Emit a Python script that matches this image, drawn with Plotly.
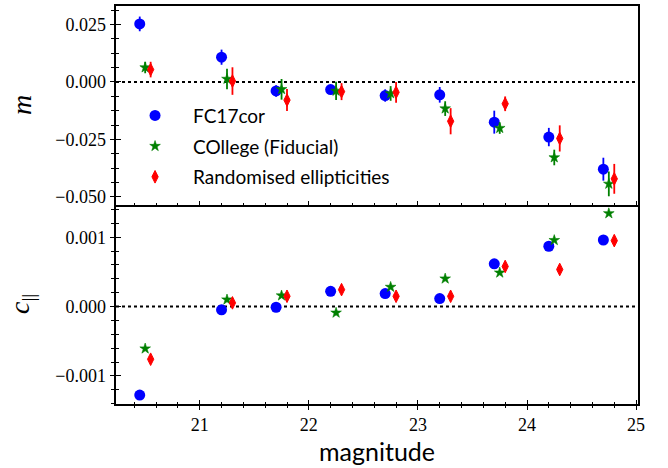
import plotly.graph_objects as go

# Magnitude bins (bin centres) for each sample; the three samples are offset slightly
mag_fc17 = [20.45, 21.20, 21.70, 22.20, 22.70, 23.20, 23.70, 24.20, 24.70]
mag_college = [20.50, 21.25, 21.75, 22.25, 22.75, 23.25, 23.75, 24.25, 24.75]
mag_random = [20.55, 21.30, 21.80, 22.30, 22.80, 23.30, 23.80, 24.30, 24.80]

# Multiplicative bias m and its uncertainty
m_fc17 = [0.0253, 0.0108, -0.0039, -0.0033, -0.0059, -0.0056, -0.0175, -0.0240, -0.0380]
m_fc17_err = [0.0032, 0.0033, 0.0025, 0.0020, 0.0027, 0.0034, 0.0050, 0.0040, 0.0050]
m_college = [0.0063, 0.0013, -0.0032, -0.0039, -0.0050, -0.0116, -0.0201, -0.0329, -0.0444]
m_college_err = [0.0025, 0.0045, 0.0045, 0.0040, 0.0032, 0.0032, 0.0025, 0.0034, 0.0054]
m_random = [0.0054, 0.0004, -0.0079, -0.0042, -0.0045, -0.0171, -0.0095, -0.0246, -0.0422]
m_random_err = [0.0034, 0.0060, 0.0048, 0.0037, 0.0045, 0.0057, 0.0032, 0.0057, 0.0065]

# Parallel additive bias c_||
c_fc17 = [-0.001277, -0.000048, -0.000010, 0.000220, 0.000187, 0.000115, 0.000617, 0.000870, 0.000960]
c_college = [-0.000607, 0.000100, 0.000158, -0.000090, 0.000282, 0.000402, 0.000488, 0.000957, 0.001344]
c_random = [-0.000760, 0.000053, 0.000148, 0.000244, 0.000148, 0.000148, 0.000578, 0.000535, 0.000951]

names = ["FC17cor", "COllege (Fiducial)", "Randomised ellipticities"]
colors = ["#0000ff", "#008000", "#ff0000"]
x_ticks = [21, 22, 23, 24, 25]
m_ticks = [-0.050, -0.025, 0.000, 0.025]
c_ticks = [-0.001, 0.000, 0.001]

X_RANGE = [20.2325, 25.0175]
M_RANGE = [-0.0536, 0.0331]
C_RANGE = [-0.001406, 0.001465]

serif = "Liberation Serif"
sans = "Lato"

markers = [
    dict(symbol="circle", size=11, color=colors[0]),
    dict(symbol="star", size=8, color=colors[1], line=dict(width=0.6, color=colors[1])),
    dict(symbol="diamond-tall", size=9, color=colors[2], line=dict(width=1, color=colors[2])),
]

fig = go.Figure()

series = [
    (mag_fc17, m_fc17, m_fc17_err, c_fc17),
    (mag_college, m_college, m_college_err, c_college),
    (mag_random, m_random, m_random_err, c_random),
]

for i, (mag, m, merr, c) in enumerate(series):
    fig.add_trace(go.Scatter(
        x=mag, y=m, mode="markers", name=names[i], legendgroup=names[i],
        marker=markers[i],
        error_y=dict(type="data", array=merr, color=colors[i], thickness=1.8, width=0),
        xaxis="x", yaxis="y", hoverinfo="skip",
    ))
for i, (mag, m, merr, c) in enumerate(series):
    fig.add_trace(go.Scatter(
        x=mag, y=c, mode="markers", name=names[i], legendgroup=names[i],
        marker=markers[i], showlegend=False,
        xaxis="x2", yaxis="y2", hoverinfo="skip",
    ))

# Empty traces so the overlay axes (inward half of the in-out ticks) get drawn
for xa, ya in [("x", "y3"), ("x2", "y4"), ("x3", "y2")]:
    fig.add_trace(go.Scatter(x=[], y=[], xaxis=xa, yaxis=ya, showlegend=False, hoverinfo="skip"))

line_kw = dict(showline=True, linecolor="black", linewidth=1.5, mirror=True,
               showgrid=False, zeroline=False)
tick_font = dict(family=serif, size=18, color="black")

fig.update_layout(
    width=668, height=468,
    margin=dict(l=116, r=30, t=4, b=64),
    paper_bgcolor="white", plot_bgcolor="white",
    showlegend=True,
    legend=dict(
        x=0.002, y=0.7725, xanchor="left", yanchor="top",
        font=dict(family=sans, size=19, color="black"),
        bgcolor="rgba(255,255,255,0)", borderwidth=0,
        tracegroupgap=3, itemwidth=66, traceorder="grouped",
    ),
    # top panel: m
    xaxis=dict(domain=[0, 1], anchor="y", range=X_RANGE, tickvals=x_ticks,
               showticklabels=False, ticks="inside", ticklen=4, tickwidth=1, tickcolor="black",
               minor=dict(dtick=0.2, tick0=0, ticks="inside", ticklen=2.5, tickwidth=1, tickcolor="black"),
               **line_kw),
    yaxis=dict(domain=[0.5, 1], anchor="x", range=M_RANGE, tickvals=m_ticks, tickformat=".3f",
               ticks="outside", ticklen=4.7, tickwidth=1.3, tickcolor="black", tickfont=tick_font,
               minor=dict(dtick=0.00625, tick0=0, ticks="outside", ticklen=3.3, tickwidth=1, tickcolor="black"),
               **line_kw),
    yaxis3=dict(overlaying="y", anchor="x", side="left", range=M_RANGE, tickvals=m_ticks,
                showticklabels=False, showline=False, showgrid=False, zeroline=False,
                ticks="inside", ticklen=4.7, tickwidth=1.3, tickcolor="black",
                minor=dict(dtick=0.00625, tick0=0, ticks="inside", ticklen=3.3, tickwidth=1, tickcolor="black")),
    # bottom panel: c_|| (its top edge is the top panel's bottom spine)
    xaxis2=dict(domain=[0, 1], anchor="y2", range=X_RANGE, tickvals=x_ticks,
                ticks="outside", ticklen=4, tickwidth=1.3, tickcolor="black", tickfont=tick_font,
                minor=dict(dtick=0.2, tick0=0, ticks="outside", ticklen=2.4, tickwidth=1, tickcolor="black"),
                showline=True, linecolor="black", linewidth=1.5, mirror=False,
                showgrid=False, zeroline=False),
    xaxis3=dict(overlaying="x2", anchor="y2", side="bottom", range=X_RANGE, tickvals=x_ticks,
                showticklabels=False, showline=False, showgrid=False, zeroline=False,
                ticks="inside", ticklen=4, tickwidth=1.3, tickcolor="black",
                minor=dict(dtick=0.2, tick0=0, ticks="inside", ticklen=2.4, tickwidth=1, tickcolor="black")),
    yaxis2=dict(domain=[0, 0.5], anchor="x2", range=C_RANGE, tickvals=c_ticks, tickformat=".3f",
                ticks="outside", ticklen=4.7, tickwidth=1.3, tickcolor="black", tickfont=tick_font,
                minor=dict(dtick=0.0002, tick0=0, ticks="outside", ticklen=3.3, tickwidth=1, tickcolor="black"),
                **line_kw),
    yaxis4=dict(overlaying="y2", anchor="x2", side="left", range=C_RANGE, tickvals=c_ticks,
                showticklabels=False, showline=False, showgrid=False, zeroline=False,
                ticks="inside", ticklen=4.7, tickwidth=1.3, tickcolor="black",
                minor=dict(dtick=0.0002, tick0=0, ticks="inside", ticklen=3.3, tickwidth=1, tickcolor="black")),
)

# Dotted zero reference lines in both panels
for xr, yr in [("x domain", "y"), ("x2 domain", "y2")]:
    fig.add_shape(type="line", xref=xr, yref=yr, x0=0, x1=1, y0=0, y1=0,
                  line=dict(color="black", width=2, dash="3px,3px"), layer="below")

# Axis labels
label_kw = dict(xref="paper", yref="paper", showarrow=False, xanchor="center", yanchor="middle")
fig.add_annotation(text="<i>m</i>", x=-0.181, y=0.75, textangle=-90,
                   font=dict(family=serif, size=28, color="black"), **label_kw)
fig.add_annotation(text="<i>c</i><sub>||</sub>", x=-0.181, y=0.25, textangle=-90,
                   font=dict(family=serif, size=28, color="black"), **label_kw)
fig.add_annotation(text="magnitude", x=0.5, y=-0.117,
                   font=dict(family=sans, size=25, color="black"), **label_kw)

fig.write_html("out.html")
